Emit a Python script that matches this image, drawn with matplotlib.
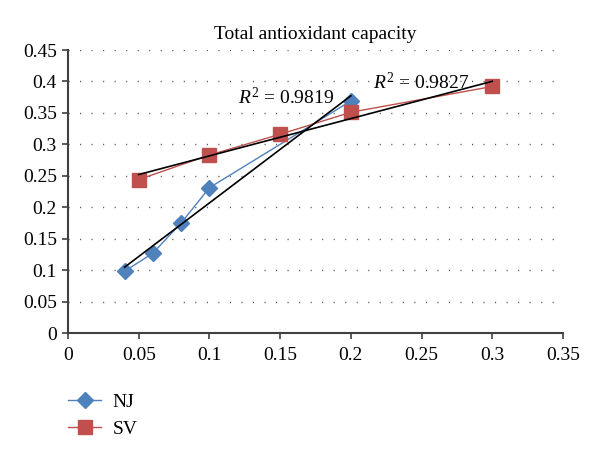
import numpy as np
import matplotlib
matplotlib.use("Agg")
import matplotlib.pyplot as plt

nj_x = [0.04, 0.06, 0.08, 0.10, 0.20]
nj_y = [0.098, 0.127, 0.175, 0.231, 0.369]
sv_x = [0.05, 0.10, 0.15, 0.20, 0.30]
sv_y = [0.244, 0.283, 0.316, 0.351, 0.392]
nj_r2 = "0.9819"
sv_r2 = "0.9827"
xticks = [0, 0.05, 0.1, 0.15, 0.2, 0.25, 0.3, 0.35]
yticks = [0, 0.05, 0.1, 0.15, 0.2, 0.25, 0.3, 0.35, 0.4, 0.45]

plt.rcParams['font.family'] = ['Liberation Serif', 'DejaVu Serif']
plt.rcParams['mathtext.fontset'] = 'custom'
plt.rcParams['mathtext.it'] = 'Liberation Serif:italic'
plt.rcParams['mathtext.rm'] = 'Liberation Serif'

fig = plt.figure(figsize=(6, 4.61), dpi=100)
ax = fig.add_axes([68/600, 1-333/461, 495/600, 283/461])

blue = '#4F81BD'
red = '#C0504D'

for y in yticks[1:]:
    ax.axhline(y, color='#555555', lw=1.0, ls=(0, (0.8, 7.5)), zorder=0)

ax.plot(nj_x, nj_y, color=blue, lw=1.0, marker='D', ms=8, mfc=blue, mec=blue, label='NJ', zorder=3)
ax.plot(sv_x, sv_y, color=red, lw=1.0, marker='s', ms=10, mfc=red, mec=red, label='SV', zorder=3)

for xs, ys in [(nj_x, nj_y), (sv_x, sv_y)]:
    k, b = np.polyfit(xs, ys, 1)
    xx = np.array([min(xs), max(xs)])
    ax.plot(xx, k*xx + b, color='black', lw=1.2, zorder=4)

ax.text(0.1202, 0.3737, r'$R^2$ = ' + nj_r2, fontsize=14, va='center', ha='left', zorder=5)
ax.text(0.2157, 0.399, r'$R^2$ = ' + sv_r2, fontsize=14, va='center', ha='left', zorder=5)

ax.set_xlim(0, 0.35)
ax.set_ylim(0, 0.45)
ax.set_xticks(xticks)
ax.set_yticks(yticks)
ax.set_xticklabels([f"{v:g}" for v in xticks])
ax.set_yticklabels([f"{v:g}" for v in yticks])
ax.tick_params(direction='out', length=4, width=1.2, color='#404040', labelsize=14)
ax.tick_params(axis='y', pad=4)
ax.tick_params(axis='x', pad=6)
for s in ['top', 'right']:
    ax.spines[s].set_visible(False)
for s in ['left', 'bottom']:
    ax.spines[s].set_color('#404040')
    ax.spines[s].set_linewidth(1.5)

ax.set_title('Total antioxidant capacity', fontsize=14, pad=8)

fig.legend(loc='upper left', bbox_to_anchor=(68/600, 1-393/461), frameon=False,
           fontsize=14, handlelength=1.7, handletextpad=0.6, labelspacing=0.5,
           borderpad=0, borderaxespad=0)

fig.savefig('out.png', dpi=100)
